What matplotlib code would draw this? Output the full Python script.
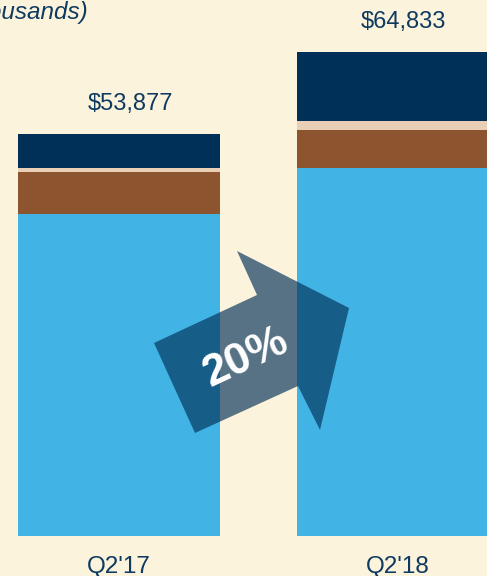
import matplotlib
matplotlib.use("Agg")
import matplotlib.pyplot as plt
from matplotlib.patches import Polygon

plt.rcParams['font.family'] = ['Liberation Sans', 'DejaVu Sans']

# data (in thousands)
quarters = ["Q2'17", "Q2'18"]
seg_blue = [43196, 49360]
seg_brown = [5549, 5012]
seg_peach = [617, 1206]
seg_navy = [4515, 9255]
totals = ["$53,877", "$64,833"]
growth = "20%"

bg = '#FCF3DC'
c_blue = '#41B4E5'
c_brown = '#8C5530'
c_peach = '#E8CFB5'
c_navy = '#003057'
c_text = '#0F3A60'

W, H = 487, 576
fig = plt.figure(figsize=(W / 100, H / 100), dpi=100, facecolor=bg)
ax = fig.add_axes([0, 40 / H, 1, 536 / H])
ax.set_facecolor(bg)

x = [0, 1]
width = 0.724
b = [0, 0]
for vals, col in [(seg_blue, c_blue), (seg_brown, c_brown),
                  (seg_peach, c_peach), (seg_navy, c_navy)]:
    ax.bar(x, vals, width, bottom=b, color=col, linewidth=0)
    b = [b[i] + vals[i] for i in range(2)]

label_shift = [0.04, 0.018]
for i in range(2):
    ax.text(x[i] + label_shift[i], b[i] + 3200, totals[i], ha='center',
            va='baseline', fontsize=17, color=c_text)

ax.set_xlim(-119 / 279, (W - 119) / 279)
ax.set_ylim(0, 536 * 134.0)
ax.axis('off')

# quarter labels
for i in range(2):
    fig.text((119 + 279 * x[i]) / W, 2.5 / H, quarters[i], ha='center',
             va='baseline', fontsize=17.5, color=c_text)

# growth arrow (figure pixel outline, y from top)
arrow_px = [(154, 343), (257, 295), (237, 251), (349, 308),
            (320, 430), (298, 386), (195, 433)]
arrow = Polygon([(px / W, 1 - py / H) for px, py in arrow_px],
                closed=True, transform=fig.transFigure,
                facecolor=c_navy, alpha=0.66, edgecolor='none')
fig.patches.append(arrow)
fig.text(246 / W, 1 - 358 / H, growth, rotation=25,
         ha='center', va='center', fontsize=32, fontweight='bold',
         color='white')

fig.text(88 / W, 1 - 12 / H, "Revenue (in thousands)", ha='right', va='center',
         fontsize=17.5, style='italic', color=c_text)

fig.savefig('out.png', dpi=100, facecolor=bg)
